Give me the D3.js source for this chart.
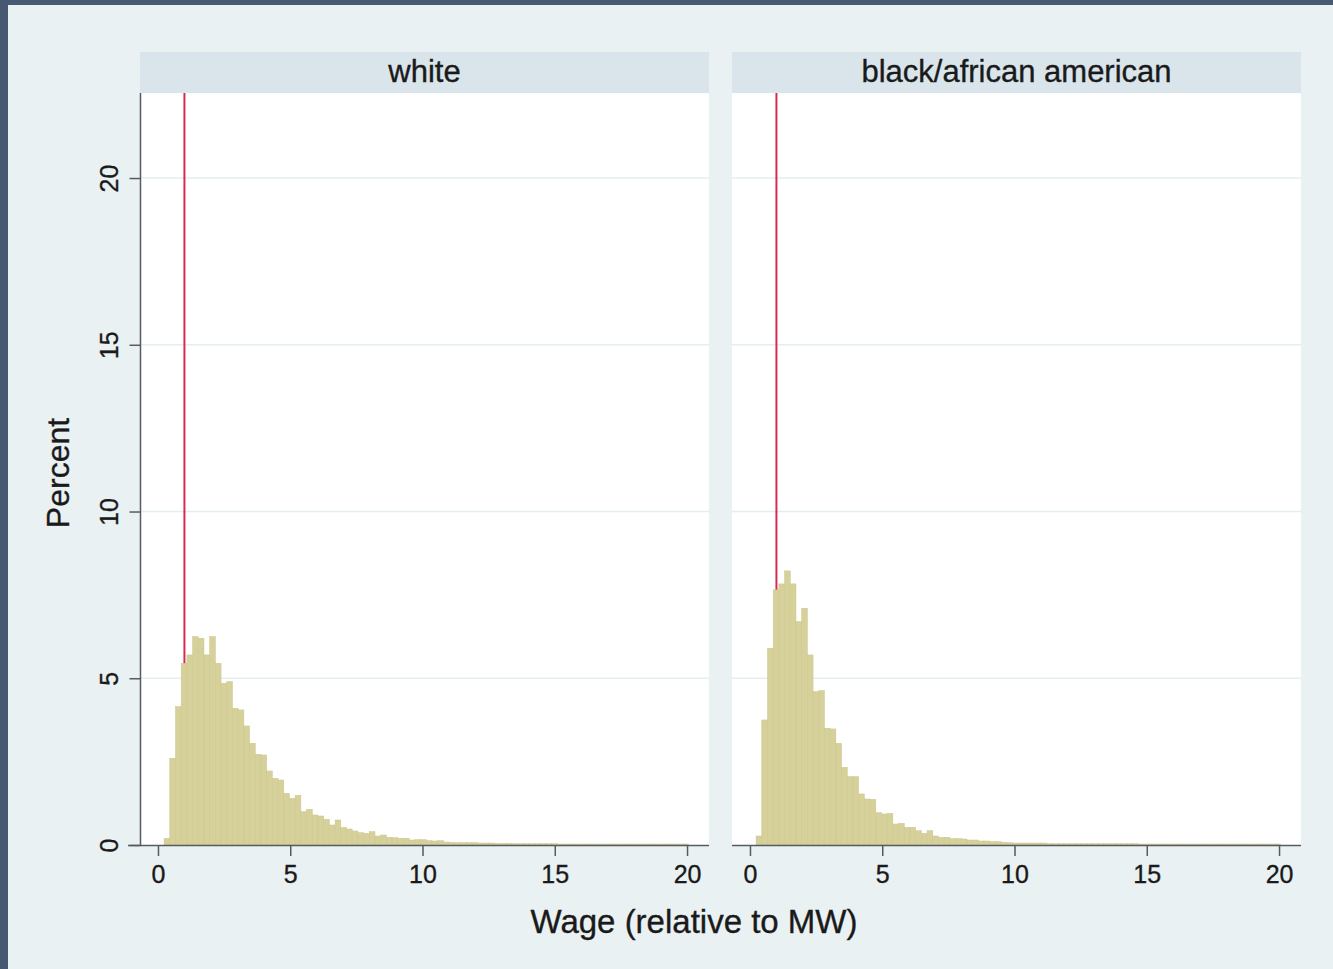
<!DOCTYPE html>
<html>
<head>
<meta charset="utf-8">
<script src="https://cdn.jsdelivr.net/npm/d3@7"></script>
<style>
  html, body { margin: 0; padding: 0; background: #eaf1f3; }
  svg { display: block; }
  text { font-family: "Liberation Sans", Arial, Helvetica, sans-serif; fill: #1a1a1a; stroke: #1a1a1a; stroke-width: 0.35px; }
</style>
</head>
<body>
<div id="chart"></div>
<script>
// Histogram of wages relative to the minimum wage, by race (percent of workers per bin)
const panels = ["white", "black/african american"];

const binStart = 0.23;      // lower edge of the first bin (wage / MW)
const binWidth = 0.2155;    // common bin width

const whitePct = [
  0.2, 2.6, 4.15, 5.45, 5.7, 6.25, 6.2, 5.7, 6.25, 5.45,
  4.85, 4.9, 4.1, 4.05, 3.57, 3.05, 2.72, 2.7, 2.22, 2.0,
  1.95, 1.55, 1.4, 1.49, 1.0, 1.07, 0.9, 0.87, 0.77, 0.6,
  0.75, 0.53, 0.48, 0.42, 0.37, 0.35, 0.4, 0.27, 0.3, 0.23,
  0.22, 0.2, 0.2, 0.15, 0.16, 0.16, 0.13, 0.12, 0.13, 0.09,
  0.08, 0.07, 0.07, 0.07, 0.07, 0.06, 0.06, 0.06, 0.05, 0.05,
  0.05, 0.04, 0.04, 0.04, 0.04, 0.04, 0.04, 0.04, 0.04, 0.03,
  0.03, 0.03, 0.03, 0.03, 0.03, 0.03, 0.03, 0.03, 0.03, 0.03,
  0.03, 0.03, 0.03, 0.03, 0.03, 0.03, 0.03, 0.03, 0.03, 0.03,
  0.03, 0.03
];

const blackPct = [
  0.27, 3.75, 5.9, 7.65, 7.83, 8.22, 7.83, 6.7, 7.1, 5.7,
  4.6, 4.63, 3.5, 3.48, 3.05, 2.33, 2.05, 2.05, 1.53, 1.38,
  1.37, 0.97, 0.93, 0.95, 0.63, 0.65, 0.53, 0.53, 0.43, 0.35,
  0.43, 0.27, 0.23, 0.23, 0.19, 0.19, 0.18, 0.15, 0.15, 0.12,
  0.12, 0.1, 0.1, 0.08, 0.07, 0.06, 0.06, 0.06, 0.06, 0.06,
  0.06, 0.04, 0.04, 0.04, 0.04, 0.04, 0.04, 0.04, 0.04, 0.04,
  0.04, 0.04, 0.04, 0.04, 0.04, 0.04, 0.04, 0.03, 0.03, 0.03,
  0.03, 0.03, 0.03, 0.03, 0.03, 0.03, 0.03, 0.03, 0.03, 0.03,
  0.03, 0.03, 0.03, 0.03, 0.03, 0.03, 0.03, 0.03, 0.03, 0.03,
  0.03, 0.03
];

const xTicks = [0, 5, 10, 15, 20];
const yTicks = [0, 5, 10, 15, 20];
const minWageLine = 1;       // wage equal to the minimum wage
const xTitle = "Wage (relative to MW)";
const yTitle = "Percent";

const W = 1333, H = 969;
const svg = d3.select("#chart").append("svg").attr("width", W).attr("height", H);

// page background and frame edge
svg.append("rect").attr("width", W).attr("height", H).attr("fill", "#eaf1f3");
svg.append("rect").attr("x", 0).attr("y", 0).attr("width", 8).attr("height", H).attr("fill", "#475873");
svg.append("rect").attr("x", 0).attr("y", 0).attr("width", W).attr("height", 5).attr("fill", "#475873");

const plotTop = 93, plotBottom = 845;
const stripTop = 52;
const panelX = [[140, 709], [732, 1301]];

const y = d3.scaleLinear().domain([0, 22.55]).range([plotBottom, plotTop]);

const series = [whitePct, blackPct];
const axisColor = "#555b60";

panels.forEach((name, i) => {
  const [x0, x1] = panelX[i];
  const x = d3.scaleLinear().domain([-0.68, 20.83]).range([x0, x1]);
  const g = svg.append("g");

  // strip with panel title
  g.append("rect").attr("x", x0).attr("y", stripTop).attr("width", x1 - x0)
    .attr("height", plotTop - stripTop).attr("fill", "#d9e5ea");
  g.append("text").attr("x", (x0 + x1) / 2).attr("y", (stripTop + plotTop) / 2 - 1)
    .attr("text-anchor", "middle").attr("dominant-baseline", "central")
    .style("font-size", "31px").text(name);

  // plot region
  g.append("rect").attr("x", x0).attr("y", plotTop).attr("width", x1 - x0)
    .attr("height", plotBottom - plotTop).attr("fill", "#ffffff");

  // horizontal grid
  g.selectAll(".grid").data(yTicks.filter(d => d > 0)).join("line")
    .attr("x1", x0).attr("x2", x1)
    .attr("y1", d => y(d)).attr("y2", d => y(d))
    .attr("stroke", "#e4eef1").attr("stroke-width", 1.5);

  // reference line at the minimum wage (bars are drawn over it)
  g.append("line")
    .attr("x1", x(minWageLine)).attr("x2", x(minWageLine))
    .attr("y1", plotTop).attr("y2", plotBottom)
    .attr("stroke", "#d62d4f").attr("stroke-width", 2);

  // histogram bars
  const bins = series[i].map((v, k) => ({ lo: binStart + k * binWidth, hi: binStart + (k + 1) * binWidth, v }));
  g.selectAll(".bar").data(bins).join("rect")
    .attr("x", d => x(d.lo))
    .attr("width", d => x(d.hi) - x(d.lo))
    .attr("y", d => y(d.v))
    .attr("height", d => y(0) - y(d.v))
    .attr("fill", "#d6d09b")
    .attr("stroke", "#cdc68c")
    .attr("stroke-width", 0.5);

  // x axis
  const xAxis = d3.axisBottom(x).tickValues(xTicks).tickSize(11).tickPadding(6).tickFormat(d3.format("d"));
  const ax = g.append("g").attr("transform", `translate(0,${plotBottom})`).call(xAxis);
  ax.select(".domain").remove();
  ax.append("line").attr("x1", i === 0 ? 128 : x0).attr("x2", x1)
    .attr("y1", 0.5).attr("y2", 0.5).attr("stroke", axisColor).attr("stroke-width", 1.5);
  ax.selectAll(".tick line").attr("stroke", axisColor).attr("stroke-width", 1.5);
  ax.selectAll(".tick text").style("font-size", "25px").attr("fill", "#1a1a1a")
    .attr("dy", "0.85em");

  // y axis on the first panel only
  if (i === 0) {
    const yAxis = d3.axisLeft(y).tickValues(yTicks).tickSize(11).tickFormat(d3.format("d"));
    const ay = g.append("g").attr("transform", `translate(${x0 + 0.5},0)`).call(yAxis);
    ay.select(".domain").remove();
    ay.append("line").attr("x1", 0).attr("x2", 0).attr("y1", plotTop).attr("y2", plotBottom)
      .attr("stroke", axisColor).attr("stroke-width", 1.5);
    ay.selectAll(".tick line").attr("stroke", axisColor).attr("stroke-width", 1.5);
    ay.selectAll(".tick text").remove();
    ay.selectAll(".tick").append("text")
      .attr("transform", "translate(-23,0) rotate(-90)")
      .attr("text-anchor", "middle")
      .attr("fill", "#1a1a1a")
      .style("font-size", "25px")
      .text(d => d);
  }
});

// axis titles
svg.append("text").attr("x", 694).attr("y", 933).attr("text-anchor", "middle")
  .style("font-size", "33px").text(xTitle);
svg.append("text").attr("transform", "translate(69,473) rotate(-90)")
  .attr("text-anchor", "middle").style("font-size", "32px").text(yTitle);
</script>
</body>
</html>
